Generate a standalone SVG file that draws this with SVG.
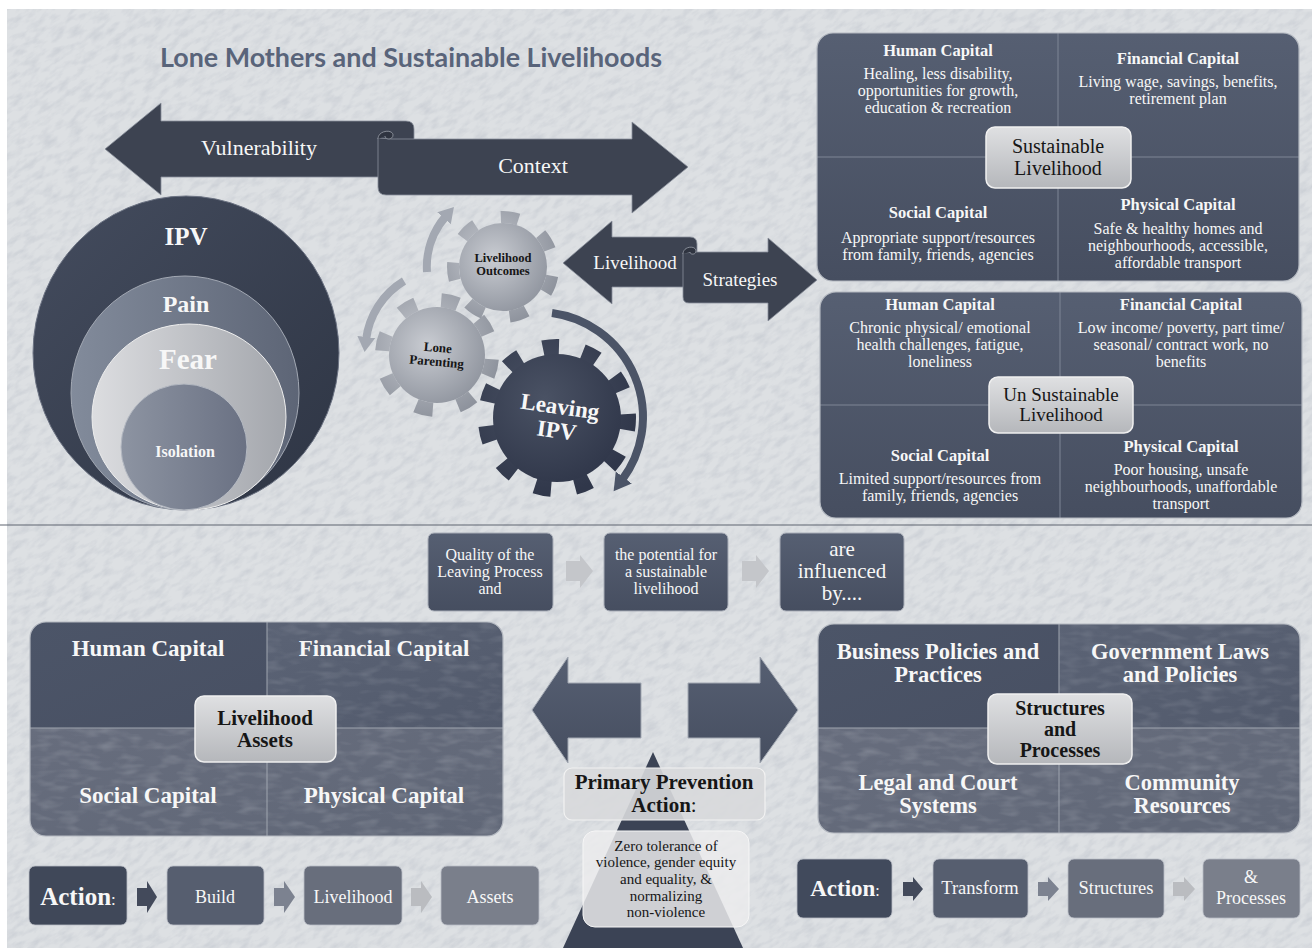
<svg xmlns="http://www.w3.org/2000/svg" width="1312" height="948" viewBox="0 0 1312 948">
<defs>
<style>
.sf{font-family:"Liberation Serif","DejaVu Serif",serif;text-anchor:middle}
.w{fill:#f7f7f7}
.k{fill:#161616}
.b{font-weight:bold}
.t15{font-size:16px}
.h16{font-size:16.5px;font-weight:bold}
.h23{font-size:23px;font-weight:bold}
.div{stroke:#7f8696;stroke-width:1}
.panel{fill:none;stroke:#b3b8c0;stroke-width:1.2}
.hub{fill:url(#hub);stroke:#f0f0f0;stroke-width:1.5}
.darkArrow{fill:#3d4351;stroke:#8a909c;stroke-width:0.8}
.bigArrow{fill:url(#slate);stroke:#a3a9b3;stroke-width:1}
.flow{fill:url(#slate);stroke:#a9aeb8;stroke-width:1}
.chev{fill:#c4c6ca}
.step{stroke:#b9bdc5;stroke-width:0.8}
</style>
<filter id="marble" x="0" y="0" width="1" height="1">
  <feTurbulence type="fractalNoise" baseFrequency="0.07 0.17" numOctaves="3" seed="7"/>
  <feColorMatrix type="matrix" values="0 0 0 0 0.55  0 0 0 0 0.58  0 0 0 0 0.63  2.4 0 0 0 -1.0"/>
</filter>
<filter id="sheen" x="0" y="0" width="1" height="1">
  <feTurbulence type="fractalNoise" baseFrequency="0.05 0.14" numOctaves="2" seed="3"/>
  <feColorMatrix type="matrix" values="0 0 0 0 0.85  0 0 0 0 0.87  0 0 0 0 0.9  2.2 0 0 0 -0.95"/>
</filter>
<clipPath id="bgclip"><rect x="7" y="9" width="1305" height="939"/></clipPath>
<linearGradient id="slate" x1="0" y1="0" x2="0" y2="1"><stop offset="0" stop-color="#565f72"/><stop offset="1" stop-color="#464e60"/></linearGradient>
<linearGradient id="slateA" x1="0" y1="0" x2="1" y2="1"><stop offset="0" stop-color="#4c5568"/><stop offset="1" stop-color="#485063"/></linearGradient>
<linearGradient id="slateB" x1="0" y1="0" x2="1" y2="1"><stop offset="0" stop-color="#5b6375"/><stop offset="1" stop-color="#525a6c"/></linearGradient>
<linearGradient id="slateC" x1="0" y1="0" x2="1" y2="1"><stop offset="0" stop-color="#676d7d"/><stop offset="1" stop-color="#606777"/></linearGradient>
<linearGradient id="hub" x1="0" y1="0" x2="0" y2="1"><stop offset="0" stop-color="#dfe0e2"/><stop offset="1" stop-color="#b5b7bb"/></linearGradient>
<linearGradient id="ipvG" x1="0" y1="0" x2="1" y2="1"><stop offset="0" stop-color="#444c5e"/><stop offset="1" stop-color="#2e3544"/></linearGradient>
<linearGradient id="painG" x1="0" y1="0" x2="1" y2="0"><stop offset="0" stop-color="#828b9b"/><stop offset="1" stop-color="#5d6576"/></linearGradient>
<linearGradient id="fearG" x1="0" y1="0" x2="1" y2="0"><stop offset="0" stop-color="#dcdde0"/><stop offset="1" stop-color="#a3a6ac"/></linearGradient>
<linearGradient id="isoG" x1="0" y1="0" x2="1" y2="0"><stop offset="0" stop-color="#8d94a2"/><stop offset="1" stop-color="#6a7183"/></linearGradient>
<radialGradient id="gearL" cx="0.4" cy="0.4" r="0.7"><stop offset="0" stop-color="#c9ccd2"/><stop offset="1" stop-color="#8d929c"/></radialGradient>
<radialGradient id="gearD" cx="0.4" cy="0.35" r="0.7"><stop offset="0" stop-color="#4a5264"/><stop offset="1" stop-color="#30374a"/></radialGradient>
<marker id="headL" markerUnits="userSpaceOnUse" markerWidth="20" markerHeight="20" refX="3" refY="10" orient="auto"><path d="M0,1 L15,10 L0,19 z" fill="#a3a8b2"/></marker>
<marker id="headD" markerUnits="userSpaceOnUse" markerWidth="22" markerHeight="22" refX="3" refY="11" orient="auto"><path d="M0,1 L17,11 L0,21 z" fill="#4b5467"/></marker>
<clipPath id="cpS"><rect x="817" y="33" width="482" height="248" rx="16"/></clipPath>
<clipPath id="cpU"><rect x="820" y="292" width="482" height="226" rx="16"/></clipPath>
<clipPath id="cpA"><rect x="30" y="622" width="473" height="214" rx="16"/></clipPath>
<clipPath id="cpP"><rect x="818" y="624" width="482" height="209" rx="16"/></clipPath>
</defs>

<!-- textured backdrop -->
<rect width="1312" height="948" fill="#ffffff"/>
<rect x="7" y="9" width="1305" height="939" fill="#dde0e3"/>
<g clip-path="url(#bgclip)">
  <rect x="-500" y="-500" width="2300" height="1950" transform="rotate(-35 656 474)" filter="url(#marble)" opacity="0.6"/>
</g>
<line x1="0" y1="525" x2="1312" y2="525" stroke="#5f6470" stroke-width="1.2"/>

<text x="411" y="67" font-family="Lato,'Liberation Sans',sans-serif" font-weight="bold" font-size="27" fill="#59647a" text-anchor="middle" textLength="502" lengthAdjust="spacingAndGlyphs">Lone Mothers and Sustainable Livelihoods</text>

<!-- Vulnerability / Context ribbon -->
<g id="vulnerability-context">
  <path class="darkArrow" d="M105,149 L161,103 L161,121 L406,121 Q414,121 414,129 L414,177 L161,177 L161,195 Z"/>
  <path class="darkArrow" d="M378,138 L378,187 Q378,195 386,195 L632,195 L632,213 L688,167 L632,122 L632,139 L392,139 Z"/>
  <path d="M378,139 C378,130 393,129 393,135 C393,140 385,140 385,136" fill="#2f3440" stroke="#9aa0aa" stroke-width="0.8"/>
  <text class="sf w" x="259" y="155" font-size="22">Vulnerability</text>
  <text class="sf w" x="533" y="173" font-size="22">Context</text>
</g>

<!-- Livelihood / Strategies ribbon -->
<g id="livelihood-strategies">
  <path class="darkArrow" d="M563,263 L612,221 L612,237 L690,237 Q697,237 697,244 L697,287 L612,287 L612,304 Z"/>
  <path class="darkArrow" d="M683,253 L683,297 Q683,303 689,303 L768,303 L768,321 L817,280 L768,238 L768,252 L696,252 Z"/>
  <path d="M683,254 C683,246 696,245 696,251 C696,255 690,255 690,252" fill="#2f3440" stroke="#9aa0aa" stroke-width="0.8"/>
  <text class="sf w" x="635" y="269" font-size="19">Livelihood</text>
  <text class="sf w" x="740" y="286" font-size="19">Strategies</text>
</g>

<!-- nested ellipses -->
<g id="ipv-layers">
  <ellipse cx="186" cy="353" rx="153" ry="157" fill="url(#ipvG)" stroke="#6b7282" stroke-width="1"/>
  <ellipse cx="185" cy="393" rx="114" ry="117" fill="url(#painG)" stroke="#a2a8b3" stroke-width="1"/>
  <ellipse cx="189" cy="417" rx="97" ry="93" fill="url(#fearG)" stroke="#eeeeee" stroke-width="1"/>
  <ellipse cx="184" cy="447" rx="63" ry="63" fill="url(#isoG)" stroke="#b4b9c2" stroke-width="1"/>
  <text class="sf w b" x="186" y="245" font-size="25">IPV</text>
  <text class="sf w b" x="186" y="312" font-size="24">Pain</text>
  <text class="sf w b" x="188" y="369" font-size="29">Fear</text>
  <text class="sf w b" x="185" y="457" font-size="16">Isolation</text>
</g>

<!-- cycle arrows -->
<g id="connectors" fill="none" stroke-linecap="butt">
  <path d="M427,272 A77,77 0 0 1 446,216" stroke="#a3a8b2" stroke-width="8" marker-end="url(#headL)"/>
  <path d="M404,281 A80,80 0 0 0 366,340" stroke="#a3a8b2" stroke-width="8" marker-end="url(#headL)"/>
  <path d="M552,313 A105,105 0 0 1 622,480" stroke="#4b5467" stroke-width="8" marker-end="url(#headD)"/>
</g>

<!-- gears -->
<g id="gear-leaving" transform="translate(557,418)">
  <circle r="71" fill="none" stroke="url(#gearD)" stroke-width="16" pathLength="110" stroke-dasharray="4 6" stroke-dashoffset="1"/>
  <circle r="64" fill="url(#gearD)"/>
  <g transform="rotate(8 0 10)">
    <text class="sf w b" x="0" y="-4" font-size="23">Leaving</text>
    <text class="sf w b" x="0" y="20" font-size="23">IPV</text>
  </g>
</g>
<g id="gear-lone" transform="translate(437,355)">
  <circle r="55" fill="none" stroke="url(#gearL)" stroke-width="14" pathLength="80" stroke-dasharray="4 6" stroke-dashoffset="-1"/>
  <circle r="48" fill="url(#gearL)"/>
  <g transform="rotate(5 0 3)">
    <text class="sf k b" x="0" y="-3" font-size="13">Lone</text>
    <text class="sf k b" x="0" y="11" font-size="13">Parenting</text>
  </g>
</g>
<g id="gear-outcomes" transform="translate(503,267)">
  <circle r="50" fill="none" stroke="url(#gearL)" stroke-width="12" pathLength="70" stroke-dasharray="4 6" stroke-dashoffset="-2"/>
  <circle r="44" fill="url(#gearL)"/>
  <text class="sf k b" x="0" y="-5" font-size="12.5">Livelihood</text>
  <text class="sf k b" x="0" y="8" font-size="12.5">Outcomes</text>
</g>

<!-- sustainable livelihood -->
<g id="sustainable">
  <g clip-path="url(#cpS)">
    <rect x="817" y="33" width="482" height="248" fill="url(#slate)"/>
    <path class="div" d="M1058,33V281M817,157H1299"/>
  </g>
  <rect class="panel" x="817" y="33" width="482" height="248" rx="16"/>
  <text class="sf w h16" x="938" y="56">Human Capital</text>
  <text class="sf w t15" x="938" y="79">Healing, less disability,</text>
  <text class="sf w t15" x="938" y="96">opportunities for growth,</text>
  <text class="sf w t15" x="938" y="113">education &amp; recreation</text>
  <text class="sf w h16" x="1178" y="64">Financial Capital</text>
  <text class="sf w t15" x="1178" y="87">Living wage, savings, benefits,</text>
  <text class="sf w t15" x="1178" y="104">retirement plan</text>
  <text class="sf w h16" x="938" y="218">Social Capital</text>
  <text class="sf w t15" x="938" y="243">Appropriate support/resources</text>
  <text class="sf w t15" x="938" y="260">from family, friends, agencies</text>
  <text class="sf w h16" x="1178" y="210">Physical Capital</text>
  <text class="sf w t15" x="1178" y="234">Safe &amp; healthy homes and</text>
  <text class="sf w t15" x="1178" y="251">neighbourhoods, accessible,</text>
  <text class="sf w t15" x="1178" y="268">affordable transport</text>
  <rect class="hub" x="986" y="127" width="145" height="61" rx="9"/>
  <text class="sf k" x="1058" y="153" font-size="20">Sustainable</text>
  <text class="sf k" x="1058" y="175" font-size="20">Livelihood</text>
</g>

<!-- unsustainable livelihood -->
<g id="unsustainable">
  <g clip-path="url(#cpU)">
    <rect x="820" y="292" width="482" height="226" fill="url(#slate)"/>
    <path class="div" d="M1060,292V518M820,405H1302"/>
  </g>
  <rect class="panel" x="820" y="292" width="482" height="226" rx="16"/>
  <text class="sf w h16" x="940" y="310">Human Capital</text>
  <text class="sf w t15" x="940" y="333">Chronic physical/ emotional</text>
  <text class="sf w t15" x="940" y="350">health challenges, fatigue,</text>
  <text class="sf w t15" x="940" y="367">loneliness</text>
  <text class="sf w h16" x="1181" y="310">Financial Capital</text>
  <text class="sf w t15" x="1181" y="333">Low income/ poverty, part time/</text>
  <text class="sf w t15" x="1181" y="350">seasonal/ contract work, no</text>
  <text class="sf w t15" x="1181" y="367">benefits</text>
  <text class="sf w h16" x="940" y="461">Social Capital</text>
  <text class="sf w t15" x="940" y="484">Limited support/resources from</text>
  <text class="sf w t15" x="940" y="501">family, friends, agencies</text>
  <text class="sf w h16" x="1181" y="452">Physical Capital</text>
  <text class="sf w t15" x="1181" y="475">Poor housing, unsafe</text>
  <text class="sf w t15" x="1181" y="492">neighbourhoods, unaffordable</text>
  <text class="sf w t15" x="1181" y="509">transport</text>
  <rect class="hub" x="989" y="377" width="144" height="56" rx="9"/>
  <text class="sf k" x="1061" y="401" font-size="19">Un Sustainable</text>
  <text class="sf k" x="1061" y="421" font-size="19">Livelihood</text>
</g>

<!-- leaving-process sentence -->
<g id="quality">
  <rect class="flow" x="428" y="533" width="125" height="78" rx="6"/>
  <text class="sf w" x="490" y="560" font-size="16">Quality of the</text>
  <text class="sf w" x="490" y="577" font-size="16">Leaving Process</text>
  <text class="sf w" x="490" y="594" font-size="16">and</text>
</g>
<g id="potential">
  <rect class="flow" x="604" y="533" width="124" height="78" rx="6"/>
  <text class="sf w" x="666" y="560" font-size="16">the potential for</text>
  <text class="sf w" x="666" y="577" font-size="16">a sustainable</text>
  <text class="sf w" x="666" y="594" font-size="16">livelihood</text>
</g>
<g id="influenced">
  <rect class="flow" x="780" y="533" width="124" height="78" rx="6"/>
  <text class="sf w" x="842" y="556" font-size="21">are</text>
  <text class="sf w" x="842" y="578" font-size="21">influenced</text>
  <text class="sf w" x="842" y="600" font-size="21">by....</text>
</g>
<g id="flow-arrows">
  <path class="chev" d="M566,561 L580,561 L580,555 L593,571 L580,588 L580,581 L566,581 Z"/>
  <path class="chev" d="M742,561 L756,561 L756,555 L769,571 L756,588 L756,581 L742,581 Z"/>
</g>

<!-- livelihood assets -->
<g id="assets">
  <g clip-path="url(#cpA)">
    <rect x="30" y="622" width="237" height="106" fill="url(#slateA)"/>
    <rect x="267" y="622" width="236" height="106" fill="url(#slateB)"/>
    <rect x="30" y="728" width="473" height="108" fill="url(#slateC)"/>
    <rect x="267" y="622" width="236" height="106" filter="url(#sheen)" opacity="0.12"/>
    <rect x="30" y="728" width="473" height="108" filter="url(#sheen)" opacity="0.16"/>
    <path d="M267,622V836M30,728H503" stroke="#a0a6b0" stroke-width="1"/>
  </g>
  <rect class="panel" x="30" y="622" width="473" height="214" rx="16"/>
  <text class="sf w h23" x="148" y="656">Human Capital</text>
  <text class="sf w h23" x="384" y="656">Financial Capital</text>
  <text class="sf w h23" x="148" y="803">Social Capital</text>
  <text class="sf w h23" x="384" y="803">Physical Capital</text>
  <rect class="hub" x="195" y="696" width="141" height="66" rx="9"/>
  <text class="sf k b" x="265" y="725" font-size="21">Livelihood</text>
  <text class="sf k b" x="265" y="747" font-size="21">Assets</text>
</g>

<!-- structures and processes -->
<g id="structures">
  <g clip-path="url(#cpP)">
    <rect x="818" y="624" width="241" height="104" fill="url(#slateA)"/>
    <rect x="1059" y="624" width="241" height="104" fill="url(#slateB)"/>
    <rect x="818" y="728" width="482" height="105" fill="url(#slateC)"/>
    <rect x="1059" y="624" width="241" height="104" filter="url(#sheen)" opacity="0.12"/>
    <rect x="818" y="728" width="482" height="105" filter="url(#sheen)" opacity="0.16"/>
    <path d="M1059,624V833M818,728H1300" stroke="#a0a6b0" stroke-width="1"/>
  </g>
  <rect class="panel" x="818" y="624" width="482" height="209" rx="16"/>
  <text class="sf w b" x="938" y="659" font-size="22.5">Business Policies and</text>
  <text class="sf w b" x="938" y="682" font-size="22.5">Practices</text>
  <text class="sf w b" x="1180" y="659" font-size="22.5">Government Laws</text>
  <text class="sf w b" x="1180" y="682" font-size="22.5">and Policies</text>
  <text class="sf w b" x="938" y="790" font-size="22.5">Legal and Court</text>
  <text class="sf w b" x="938" y="813" font-size="22.5">Systems</text>
  <text class="sf w b" x="1182" y="790" font-size="22.5">Community</text>
  <text class="sf w b" x="1182" y="813" font-size="22.5">Resources</text>
  <rect class="hub" x="988" y="694" width="144" height="70" rx="9"/>
  <text class="sf k b" x="1060" y="715" font-size="20">Structures</text>
  <text class="sf k b" x="1060" y="736" font-size="20">and</text>
  <text class="sf k b" x="1060" y="757" font-size="20">Processes</text>
</g>

<!-- prevention hub -->
<g id="prevention">
  <path class="bigArrow" d="M532,710 L568,657 L568,683 L641,683 L641,738 L568,738 L568,763 Z"/>
  <path class="bigArrow" d="M688,683 L760,683 L760,657 L798,710 L760,763 L760,738 L688,738 Z"/>
  <path d="M653,752 L743,948 L563,948 Z" fill="#3b4355"/>
  <rect x="564" y="768" width="201" height="52" rx="8" fill="#d8d9dc" fill-opacity="0.9" stroke="#f2f2f2" stroke-width="1.2"/>
  <text class="sf k" x="664" y="789" font-size="21"><tspan class="b">Primary Prevention</tspan></text>
  <text class="sf k" x="664" y="812" font-size="21"><tspan class="b">Action</tspan>:</text>
  <rect x="583" y="831" width="166" height="96" rx="12" fill="#ececed" fill-opacity="0.84" stroke="#f6f6f6" stroke-width="1"/>
  <text class="sf k" x="666" y="851" font-size="15">Zero tolerance of</text>
  <text class="sf k" x="666" y="867" font-size="15">violence, gender equity</text>
  <text class="sf k" x="666" y="884" font-size="15">and equality, &amp;</text>
  <text class="sf k" x="666" y="901" font-size="15">normalizing</text>
  <text class="sf k" x="666" y="917" font-size="15">non-violence</text>
</g>

<!-- action row: build livelihood assets -->
<g id="action-build">
  <rect class="step" x="29" y="866" width="98" height="59" rx="6" fill="#404859"/>
  <text class="sf w" x="78" y="905" font-size="25"><tspan class="b">Action</tspan><tspan font-size="17">:</tspan></text>
  <path d="M137,888 L147,888 L147,881 L157,897 L147,913 L147,906 L137,906 Z" fill="#434a5b"/>
  <rect class="step" x="167" y="866" width="97" height="59" rx="6" fill="#565e6f"/>
  <text class="sf w" x="215" y="903" font-size="18">Build</text>
  <path d="M274,888 L284,888 L284,881 L295,897 L284,913 L284,906 L274,906 Z" fill="#7c8290"/>
  <rect class="step" x="304" y="866" width="98" height="59" rx="6" fill="#686e7c"/>
  <text class="sf w" x="353" y="903" font-size="18">Livelihood</text>
  <path d="M411,888 L421,888 L421,881 L432,897 L421,913 L421,906 L411,906 Z" fill="#babcc0"/>
  <rect class="step" x="441" y="866" width="98" height="59" rx="6" fill="#7a7f8b"/>
  <text class="sf w" x="490" y="903" font-size="18">Assets</text>
</g>

<!-- action row: transform structures and processes -->
<g id="action-transform">
  <rect class="step" x="797" y="859" width="95" height="59" rx="6" fill="#414a5c"/>
  <text class="sf w" x="845" y="896" font-size="23"><tspan class="b">Action</tspan><tspan font-size="16">:</tspan></text>
  <path d="M903,882 L913,882 L913,877 L923,889 L913,901 L913,896 L903,896 Z" fill="#434a5b"/>
  <rect class="step" x="933" y="859" width="95" height="59" rx="6" fill="#565e6f"/>
  <text class="sf w" x="980" y="894" font-size="18.5">Transform</text>
  <path d="M1038,882 L1048,882 L1048,877 L1059,889 L1048,901 L1048,896 L1038,896 Z" fill="#7c8290"/>
  <rect class="step" x="1068" y="859" width="96" height="59" rx="6" fill="#686e7c"/>
  <text class="sf w" x="1116" y="894" font-size="18.5">Structures</text>
  <path d="M1173,882 L1184,882 L1184,877 L1195,889 L1184,901 L1184,896 L1173,896 Z" fill="#babcc0"/>
  <rect class="step" x="1203" y="859" width="97" height="59" rx="6" fill="#7a7f8b"/>
  <text class="sf w" x="1251" y="883" font-size="18">&amp;</text>
  <text class="sf w" x="1251" y="904" font-size="18">Processes</text>
</g>
</svg>
